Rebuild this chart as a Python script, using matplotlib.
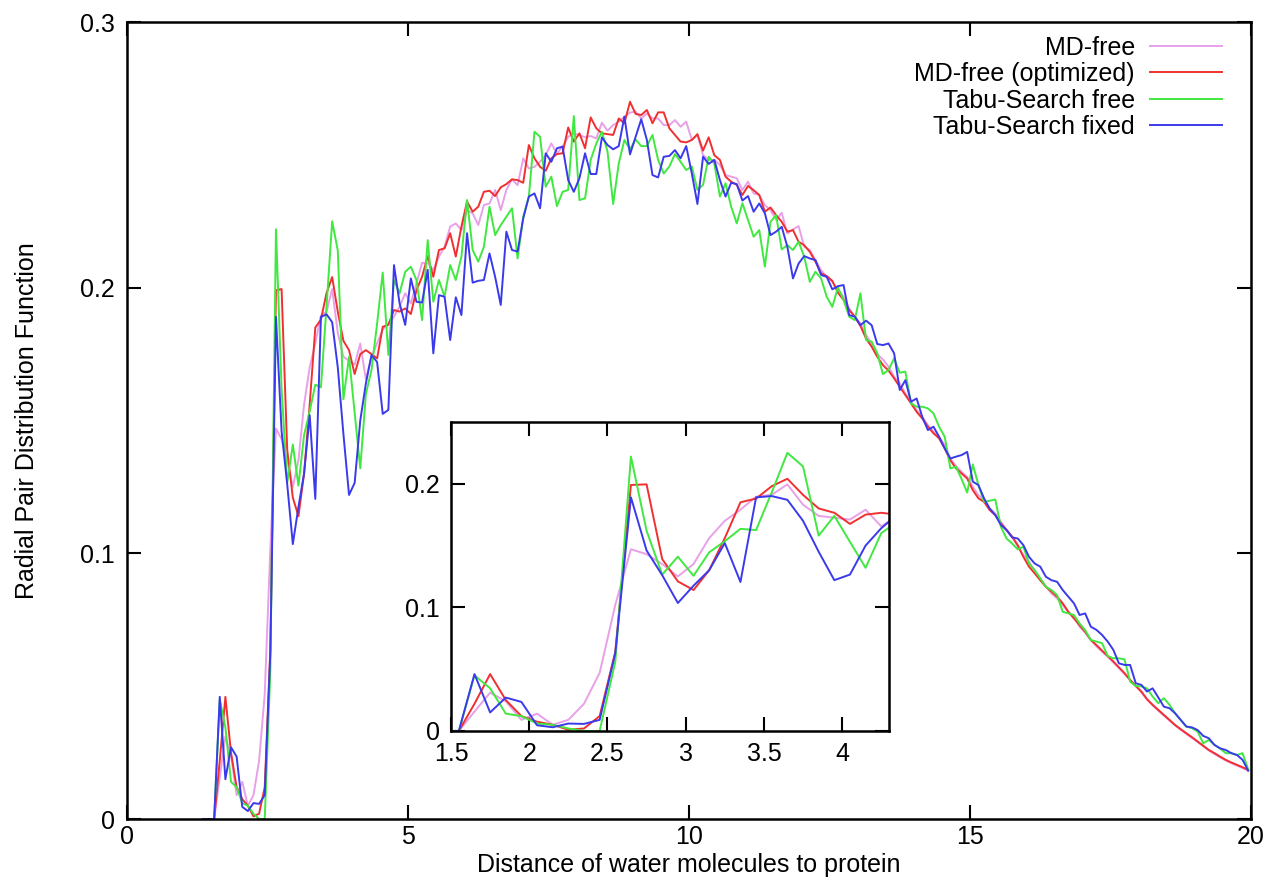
import numpy as np
import matplotlib
matplotlib.use("Agg")
import matplotlib.pyplot as plt

plt.rcParams['font.family'] = ['Liberation Sans', 'DejaVu Sans']

# bin centres: 1.35 ... 19.95, step 0.1
dist = np.round(np.arange(1.35, 20.0, 0.1), 2)

md_free = [
    0, 0, 0, 0.0157, 0.031, 0.024, 0.009, 0.014, 0.005, 0.009,
    0.022, 0.047, 0.102, 0.147, 0.143, 0.135, 0.125, 0.135, 0.156, 0.170,
    0.179, 0.1895, 0.191, 0.1995, 0.183, 0.174, 0.1725, 0.171, 0.179, 0.1655,
    0.174, 0.1791, 0.1843, 0.1866, 0.1891, 0.1929, 0.1979, 0.1941, 0.2016, 0.2094,
    0.2092, 0.2067, 0.2117, 0.2154, 0.2230, 0.2242, 0.2217, 0.2292, 0.2280, 0.2236,
    0.2311, 0.2317, 0.2368, 0.2292, 0.2368, 0.2408, 0.2386, 0.2487, 0.2449, 0.2455,
    0.2474, 0.2499, 0.2543, 0.2506, 0.2531, 0.2568, 0.2581, 0.2575, 0.2566, 0.2571,
    0.2562, 0.2621, 0.2591, 0.2612, 0.2625, 0.2644, 0.2659, 0.2663, 0.2637, 0.2656,
    0.2637, 0.2637, 0.2612, 0.2612, 0.2631, 0.2606, 0.2625, 0.2556, 0.2575, 0.2499,
    0.2481, 0.2481, 0.2462, 0.2424, 0.2418, 0.2412, 0.2368, 0.2399, 0.2355, 0.2349,
    0.2311, 0.2292, 0.2255, 0.2282, 0.2204, 0.2219, 0.2232, 0.2154, 0.2142, 0.2104,
    0.2066, 0.2041, 0.2022, 0.1991, 0.1966, 0.1922, 0.1891, 0.1866, 0.1822, 0.1790,
    0.1750, 0.1730, 0.1703, 0.1665, 0.1640, 0.1602, 0.1571, 0.1539, 0.1514, 0.1483,
    0.1458, 0.1439, 0.1408, 0.1357, 0.1329, 0.1307, 0.1288, 0.1251, 0.1219, 0.1201,
    0.1169, 0.1150, 0.1119, 0.1088, 0.1063, 0.1025, 0.0994, 0.0968, 0.0937, 0.0906,
    0.0877, 0.0849, 0.0830, 0.0805, 0.0780, 0.0761, 0.0724, 0.0701, 0.0674, 0.0650,
    0.0630, 0.0611, 0.0590, 0.0568, 0.0546, 0.0522, 0.0500, 0.0477, 0.0450, 0.0428,
    0.0408, 0.0389, 0.0371, 0.0352, 0.0336, 0.0320, 0.0305, 0.0290, 0.0274, 0.0258,
    0.0245, 0.0232, 0.0220, 0.0210, 0.0201, 0.0192, 0.0182,
]

md_free_opt = [
    0, 0, 0, 0.022, 0.046, 0.025, 0.012, 0.0075, 0.005, 0.001,
    0.002, 0.012, 0.064, 0.199, 0.1995, 0.139, 0.121, 0.114, 0.130, 0.156,
    0.185, 0.188, 0.198, 0.204, 0.191, 0.180, 0.1765, 0.1675, 0.175, 0.1765,
    0.175, 0.1734, 0.1853, 0.1860, 0.1916, 0.1910, 0.1922, 0.1901, 0.1991, 0.2041,
    0.2119, 0.2041, 0.2142, 0.2148, 0.2205, 0.2117, 0.2230, 0.2324, 0.2286, 0.2305,
    0.2361, 0.2365, 0.2345, 0.2378, 0.2390, 0.2408, 0.2405, 0.2395, 0.2537, 0.2487,
    0.2455, 0.2440, 0.2487, 0.2503, 0.2506, 0.2603, 0.2550, 0.2581, 0.2525, 0.2641,
    0.2600, 0.2581, 0.2578, 0.2575, 0.2637, 0.2619, 0.2700, 0.2654, 0.2650, 0.2669,
    0.2619, 0.2660, 0.2660, 0.2600, 0.2575, 0.2550, 0.2547, 0.2556, 0.2578, 0.2516,
    0.2566, 0.2499, 0.2481, 0.2418, 0.2399, 0.2387, 0.2349, 0.2383, 0.2367, 0.2349,
    0.2286, 0.2302, 0.2273, 0.2248, 0.2211, 0.2217, 0.2173, 0.2160, 0.2135, 0.2098,
    0.2054, 0.2044, 0.2026, 0.1981, 0.1954, 0.1916, 0.1891, 0.1856, 0.1809, 0.1778,
    0.1740, 0.1709, 0.1688, 0.1659, 0.1627, 0.1596, 0.1565, 0.1533, 0.1508, 0.1477,
    0.1452, 0.1433, 0.1395, 0.1351, 0.1320, 0.1301, 0.1282, 0.1238, 0.1207, 0.1194,
    0.1163, 0.1144, 0.1113, 0.1088, 0.1063, 0.1031, 0.0987, 0.0950, 0.0925, 0.0899,
    0.0874, 0.0856, 0.0837, 0.0812, 0.0780, 0.0755, 0.0730, 0.0705, 0.0674, 0.0655,
    0.0634, 0.0614, 0.0593, 0.0571, 0.0549, 0.0524, 0.0501, 0.0480, 0.0451, 0.0430,
    0.0411, 0.0392, 0.0373, 0.0354, 0.0338, 0.0323, 0.0308, 0.0292, 0.0276, 0.0260,
    0.0248, 0.0235, 0.0223, 0.0213, 0.0204, 0.0195, 0.0185,
]

tabu_free = [
    0, 0, 0, 0.045, 0.0345, 0.014, 0.012, 0.006, 0.005, 0.002,
    0.0, 0.0, 0.056, 0.222, 0.162, 0.1265, 0.141, 0.1255, 0.1445, 0.1535,
    0.1635, 0.1625, 0.193, 0.225, 0.214, 0.158, 0.174, 0.153, 0.132, 0.160,
    0.169, 0.1866, 0.2057, 0.1747, 0.2029, 0.1979, 0.2060, 0.2079, 0.2029, 0.1878,
    0.2179, 0.1947, 0.2029, 0.1966, 0.2085, 0.2029, 0.2117, 0.2330, 0.2142, 0.2098,
    0.2154, 0.2305, 0.2198, 0.2236, 0.2267, 0.2299, 0.2110, 0.2267, 0.2343, 0.2587,
    0.2568, 0.2380, 0.2418, 0.2307, 0.2361, 0.2368, 0.2646, 0.2330, 0.2336, 0.2481,
    0.2543, 0.2587, 0.2512, 0.2315, 0.2468, 0.2556, 0.2521, 0.2558, 0.2533, 0.2533,
    0.2575, 0.2481, 0.2430, 0.2456, 0.2503, 0.2474, 0.2443, 0.2456, 0.2368, 0.2387,
    0.2493, 0.2468, 0.2343, 0.2393, 0.2305, 0.2242, 0.2318, 0.2255, 0.2192, 0.2217,
    0.2079, 0.2248, 0.2273, 0.2144, 0.2160, 0.2142, 0.2173, 0.2117, 0.2022, 0.2060,
    0.2035, 0.1966, 0.1928, 0.2001, 0.1954, 0.1891, 0.1878, 0.1979, 0.1803, 0.1797,
    0.1753, 0.1675, 0.1690, 0.1734, 0.1680, 0.1684, 0.1565, 0.1552, 0.1552, 0.1546,
    0.1527, 0.1477, 0.1439, 0.1320, 0.1326, 0.1280, 0.1229, 0.1335, 0.1257, 0.1194,
    0.1198, 0.1203, 0.1100, 0.1056, 0.1037, 0.1015, 0.1025, 0.0962, 0.0937, 0.0906,
    0.0874, 0.0862, 0.0843, 0.0780, 0.0774, 0.0768, 0.0736, 0.0711, 0.0674, 0.0668,
    0.0662, 0.0614, 0.0605, 0.0605, 0.0601, 0.0517, 0.0501, 0.0499, 0.0492, 0.0461,
    0.0436, 0.0455, 0.0430, 0.0398, 0.0373, 0.0348, 0.0342, 0.0329, 0.0285, 0.0298,
    0.0279, 0.0266, 0.0248, 0.0248, 0.0241, 0.0248, 0.0187,
]

tabu_fixed = [
    0, 0, 0, 0.046, 0.015, 0.027, 0.0235, 0.0046, 0.003, 0.006,
    0.0057, 0.009, 0.063, 0.189, 0.146, 0.126, 0.1035, 0.1175, 0.130, 0.152,
    0.1205, 0.189, 0.190, 0.187, 0.170, 0.145, 0.122, 0.1265, 0.150, 0.164,
    0.1747, 0.172, 0.1525, 0.154, 0.2085, 0.1941, 0.1860, 0.2035, 0.1947, 0.1944,
    0.2067, 0.1753, 0.1972, 0.1966, 0.1803, 0.1964, 0.1897, 0.2205, 0.2019, 0.2026,
    0.2029, 0.2129, 0.2041, 0.1935, 0.2211, 0.2142, 0.2136, 0.2261, 0.2343, 0.2355,
    0.2299, 0.2506, 0.2474, 0.2525, 0.2531, 0.2405, 0.2361, 0.2412, 0.2506, 0.2428,
    0.2428, 0.2566, 0.2537, 0.2521, 0.2533, 0.2644, 0.2502, 0.2568, 0.2634, 0.2556,
    0.2424, 0.2415, 0.2493, 0.2496, 0.2518, 0.2487, 0.2533, 0.2430, 0.2315, 0.2493,
    0.2466, 0.2481, 0.2405, 0.2343, 0.2395, 0.2390, 0.2328, 0.2345, 0.2286, 0.2317,
    0.2280, 0.2198, 0.2211, 0.2229, 0.2154, 0.2035, 0.2091, 0.2119, 0.2110, 0.2104,
    0.2048, 0.2041, 0.1994, 0.2006, 0.2010, 0.1897, 0.1891, 0.1859, 0.1876, 0.1859,
    0.1788, 0.1784, 0.1790, 0.1753, 0.1615, 0.1652, 0.1571, 0.1583, 0.1514, 0.1464,
    0.1477, 0.1439, 0.1395, 0.1357, 0.1364, 0.1370, 0.1382, 0.1270, 0.1257, 0.1207,
    0.1169, 0.1144, 0.1107, 0.1088, 0.1060, 0.1056, 0.1031, 0.0987, 0.0962, 0.0950,
    0.0912, 0.0899, 0.0893, 0.0862, 0.0837, 0.0812, 0.0768, 0.0774, 0.0724, 0.0712,
    0.0693, 0.0668, 0.0637, 0.0586, 0.0580, 0.0580, 0.0511, 0.0505, 0.0480, 0.0492,
    0.0458, 0.0423, 0.0417, 0.0398, 0.0373, 0.0348, 0.0345, 0.0335, 0.0313, 0.0304,
    0.0279, 0.0266, 0.0260, 0.0248, 0.0241, 0.0223, 0.0182,
]

labels = ["MD-free", "MD-free (optimized)", "Tabu-Search free", "Tabu-Search fixed"]
colors = ["#e8a0e8", "#f03030", "#40e840", "#3a3aec"]
series = [md_free, md_free_opt, tabu_free, tabu_fixed]

fig = plt.figure(figsize=(12.73, 8.96), dpi=100)
ax = fig.add_axes([0.0998, 0.0859, 0.8829, 0.8895])

for y, c, lab in zip(series, colors, labels):
    ax.plot(dist, y, color=c, lw=1.4, label=lab)

ax.set_xlim(0, 20)
ax.set_ylim(0, 0.3)
ax.set_xticks([0, 5, 10, 15, 20])
ax.set_yticks([0, 0.1, 0.2, 0.3])
ax.set_yticklabels(["0", "0.1", "0.2", "0.3"])
ax.tick_params(direction="in", length=10, width=1.5, top=True, right=True,
               labelsize=18, pad=9)
ax.tick_params(axis="x", pad=4)
for s in ax.spines.values():
    s.set_linewidth(1.8)
ax.set_xlabel("Distance of water molecules to protein", fontsize=18, labelpad=3)
ax.set_ylabel("Radial Pair Distribution Function", fontsize=18, labelpad=29)

ax.legend(loc="upper right", bbox_to_anchor=(0.9746, 0.9831), frameon=False,
          markerfirst=False, fontsize=18, handlelength=2.9, handletextpad=0.6,
          labelspacing=0.1, borderaxespad=0.0, borderpad=0.0)

# inset zoom on the first peaks
ins = fig.add_axes([0.3543, 0.1842, 0.3441, 0.3449])
for y, c in zip(series, colors):
    ins.plot(dist, y, color=c, lw=1.4)
ins.set_xlim(1.5, 4.3)
ins.set_ylim(0, 0.25)
ins.set_xticks([1.5, 2, 2.5, 3, 3.5, 4])
ins.set_xticklabels(["1.5", "2", "2.5", "3", "3.5", "4"])
ins.set_yticks([0, 0.1, 0.2])
ins.set_yticklabels(["0", "0.1", "0.2"])
ins.tick_params(direction="in", length=10, width=1.5, top=True, right=True,
                labelsize=18, pad=8)
for s in ins.spines.values():
    s.set_linewidth(1.8)

fig.savefig("out.png", dpi=100)
